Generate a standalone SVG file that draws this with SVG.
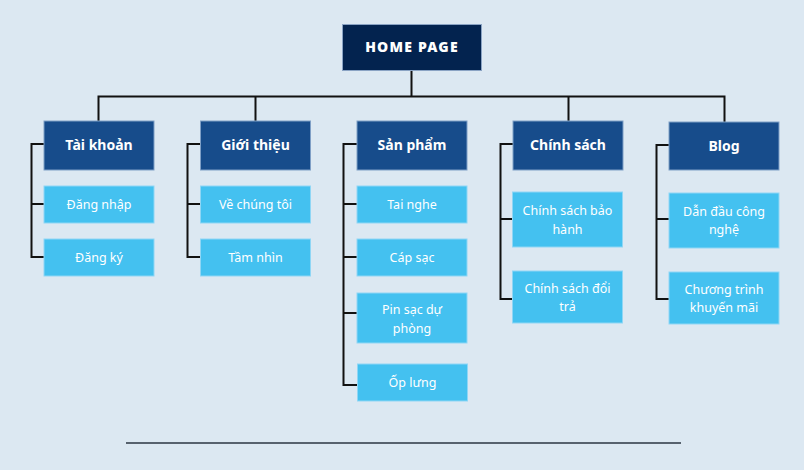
<svg xmlns="http://www.w3.org/2000/svg" width="804" height="470" viewBox="0 0 804 470">
<style>
.bg{fill:#dce8f2}
.home{fill:#03234f;stroke:#8aa3c4;stroke-width:1}
.l1{fill:#174c8b;stroke:#7f9fc6;stroke-width:1}
.l2{fill:#44c1f0;stroke:#8fd6f5;stroke-width:1}
.t{font-family:"Noto Sans","Open Sans",sans-serif;fill:#ffffff;text-anchor:middle;dominant-baseline:central}
.th{font-size:14px;font-weight:900;letter-spacing:1.2px}
.t1{font-size:14px;font-weight:700}
.t2{font-size:12.5px}
.ln{fill:none;stroke:#111111;stroke-width:2}
</style>
<rect class="bg" x="0" y="0" width="804" height="470"/>
<g id="connectors">
<path class="ln" d="M411.5 70 V96.5 M98.5 121 V96.5 H724.5 V122 M255.5 96.5 V121 M568.5 96.5 V121"/>
<path class="ln" d="M44 144 H31.5 V257 H44 M31.5 204 H44"/>
<path class="ln" d="M200 144 H187.5 V257 H200 M187.5 204 H200"/>
<path class="ln" d="M357 144 H343.5 V385 H357 M343.5 204 H357 M343.5 257 H357 M343.5 313 H357"/>
<path class="ln" d="M513 144 H500.5 V299 H513 M500.5 219 H513"/>
<path class="ln" d="M669 145 H656.5 V299 H669 M656.5 219 H669"/>
<path d="M126 443 H681" stroke="#2b3642" stroke-width="1.5"/>
</g>
<g id="home"><rect class="home" x="342.5" y="24.5" width="139" height="46"/><text class="t th" x="412" y="46">HOME PAGE</text></g>
<g id="taikhoan"><rect class="l1" x="44" y="121" width="110" height="49"/><text class="t t1" x="99" y="144">Tài khoản</text></g>
<g id="dangnhap"><rect class="l2" x="44" y="186" width="110" height="37"/><text class="t t2" x="99" y="204">Đăng nhập</text></g>
<g id="dangky"><rect class="l2" x="44" y="239" width="110" height="37"/><text class="t t2" x="99" y="257">Đăng ký</text></g>
<g id="gioithieu"><rect class="l1" x="200.5" y="121" width="110" height="49"/><text class="t t1" x="255.5" y="144">Giới thiệu</text></g>
<g id="vechungtoi"><rect class="l2" x="200.5" y="186" width="110" height="37"/><text class="t t2" x="255.5" y="204">Về chúng tôi</text></g>
<g id="tamnhin"><rect class="l2" x="200.5" y="239" width="110" height="37"/><text class="t t2" x="255.5" y="257">Tầm nhìn</text></g>
<g id="sanpham"><rect class="l1" x="357" y="121" width="110" height="49"/><text class="t t1" x="412" y="144">Sản phẩm</text></g>
<g id="tainghe"><rect class="l2" x="357" y="186" width="110" height="37"/><text class="t t2" x="412" y="204">Tai nghe</text></g>
<g id="capsac"><rect class="l2" x="357" y="239" width="110" height="37"/><text class="t t2" x="412" y="257">Cáp sạc</text></g>
<g id="pinsac"><rect class="l2" x="357" y="293" width="110" height="50"/><text class="t t2" x="412" y="309">Pin sạc dự</text><text class="t t2" x="412" y="328">phòng</text></g>
<g id="opluong"><rect class="l2" x="357.5" y="364" width="110" height="37"/><text class="t t2" x="412.5" y="382">Ốp lưng</text></g>
<g id="chinhsach"><rect class="l1" x="513" y="121" width="110" height="49"/><text class="t t1" x="568" y="144">Chính sách</text></g>
<g id="baohanh"><rect class="l2" x="512.5" y="192" width="110" height="55"/><text class="t t2" x="567.5" y="210">Chính sách bảo</text><text class="t t2" x="567.5" y="229">hành</text></g>
<g id="doitra"><rect class="l2" x="512.5" y="271" width="110" height="52"/><text class="t t2" x="567.5" y="288">Chính sách đổi</text><text class="t t2" x="567.5" y="306">trả</text></g>
<g id="blog"><rect class="l1" x="669" y="122" width="110" height="48"/><text class="t t1" x="724" y="145">Blog</text></g>
<g id="dandau"><rect class="l2" x="669" y="193" width="110" height="55"/><text class="t t2" x="724" y="211">Dẫn đầu công</text><text class="t t2" x="724" y="229">nghệ</text></g>
<g id="khuyenmai"><rect class="l2" x="669" y="272" width="110" height="52"/><text class="t t2" x="724" y="289">Chương trình</text><text class="t t2" x="724" y="307">khuyến mãi</text></g>
</svg>
